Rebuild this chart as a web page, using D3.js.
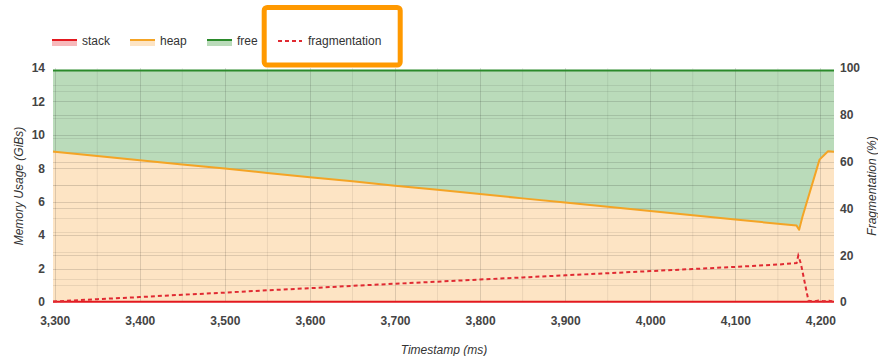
<!DOCTYPE html>
<html><head><meta charset="utf-8">
<script src="https://cdn.jsdelivr.net/npm/d3@7"></script>
<style>
html,body{margin:0;padding:0;background:#fff;}
svg{display:block;font-family:"Liberation Sans",Arial,sans-serif;}
</style></head>
<body><svg id="c" width="878" height="356"></svg>
<script>
// ---- data ----
const memTs =  [3298,3300,3350,3400,3450,3500,3550,3600,3650,3700,3750,3800,3850,3900,3950,4000,4050,4100,4150,4172,4175,4179,4199,4209,4216];
const stack =  [0.02,0.02,0.02,0.02,0.02,0.02,0.02,0.02,0.02,0.02,0.02,0.02,0.02,0.02,0.02,0.02,0.02,0.02,0.02,0.02,0.02,0.02,0.02,0.02,0.02];
const heap =   [8.98,8.97,8.72,8.46,8.21,7.96,7.70,7.45,7.20,6.94,6.69,6.44,6.18,5.93,5.68,5.43,5.17,4.92,4.66,4.55,4.30,5.10,8.50,9.00,8.97];
const free =   [4.85,4.86,5.11,5.37,5.62,5.87,6.13,6.38,6.63,6.89,7.14,7.39,7.65,7.90,8.15,8.40,8.66,8.91,9.17,9.28,9.53,8.73,5.33,4.83,4.86];
const fragTs = [3298,3350,3400,3450,3500,3550,3600,3650,3700,3750,3800,3850,3900,3950,4000,4050,4100,4150,4172,4174,4177,4186,4192,4198,4204,4210,4214,4216];
const frag =   [0.2,1.2,2.1,3.1,4.0,5.0,5.9,6.9,7.8,8.7,9.6,10.5,11.4,12.3,13.2,14.1,15.0,16.0,16.6,19.8,16.5,0.5,0.3,0.6,0.3,0.5,0.3,1.2];
const xTicks = [3300,3400,3500,3600,3700,3800,3900,4000,4100,4200];
const yLeftTicks = [0,2,4,6,8,10,12,14];
const yRightTicks = [0,20,40,60,80,100];
const legendNames = ["stack","heap","free","fragmentation"];

// ---- layout ----
const svg = d3.select("#c");
const L = 53, R = 834, T = 68, B = 302;
const x = d3.scaleLinear().domain([3298,4216]).range([L,R]);
const yL = d3.scaleLinear().domain([0,14]).range([B,T]);
const yR = d3.scaleLinear().domain([0,100]).range([B,T]);

const rows = memTs.map((t,i)=>({t, s:stack[i], h:heap[i], f:free[i]}));

const colors = {
  stackLine:"#e3191f", stackFill:"#f7b9bb",
  heapLine:"#f4a425", heapFill:"#fde4c4",
  freeLine:"#2b8a2b", freeFill:"#badbba",
  frag:"#e02a32"
};

const g = svg.append("g");
// areas
g.append("path").datum(rows)
  .attr("d", d3.area().x(d=>x(d.t)).y0(d=>yL(d.s+d.h)).y1(d=>yL(d.s+d.h+d.f)))
  .attr("fill", colors.freeFill);
g.append("path").datum(rows)
  .attr("d", d3.area().x(d=>x(d.t)).y0(d=>yL(d.s)).y1(d=>yL(d.s+d.h)))
  .attr("fill", colors.heapFill);
g.append("path").datum(rows)
  .attr("d", d3.area().x(d=>x(d.t)).y0(yL(0)).y1(d=>yL(d.s)))
  .attr("fill", colors.stackFill);

// grid
const grid = svg.append("g");
const minorX = d3.range(3350, 4216, 100);
grid.selectAll(".vmin").data(minorX).join("line")
  .attr("x1",d=>x(d)).attr("x2",d=>x(d)).attr("y1",T).attr("y2",B)
  .attr("stroke","rgba(0,0,0,0.07)").attr("stroke-width",1);
grid.selectAll(".vmaj").data(xTicks).join("line")
  .attr("x1",d=>Math.round(x(d))+0.5).attr("x2",d=>Math.round(x(d))+0.5).attr("y1",T).attr("y2",B)
  .attr("stroke","rgba(0,0,0,0.13)").attr("stroke-width",1);
const leftGrid = d3.range(1,14,1);
grid.selectAll(".hl").data(leftGrid).join("line")
  .attr("x1",L).attr("x2",R).attr("y1",d=>Math.round(yL(d))+0.5).attr("y2",d=>Math.round(yL(d))+0.5)
  .attr("stroke",d=> d%2===0 ? "rgba(0,0,0,0.13)" : "rgba(0,0,0,0.08)").attr("stroke-width",1);
const rightGrid = d3.range(10,100,10);
grid.selectAll(".hr").data(rightGrid).join("line")
  .attr("x1",L).attr("x2",R).attr("y1",d=>Math.round(yR(d))+0.5).attr("y2",d=>Math.round(yR(d))+0.5)
  .attr("stroke",d=> d%20===0 ? "rgba(0,0,0,0.12)" : "rgba(0,0,0,0.08)").attr("stroke-width",1);

// lines
svg.append("path").datum(rows)
  .attr("d", d3.line().x(d=>x(d.t)).y(d=>yL(d.s+d.h+d.f)))
  .attr("fill","none").attr("stroke",colors.freeLine).attr("stroke-width",2);
svg.append("path").datum(rows)
  .attr("d", d3.line().x(d=>x(d.t)).y(d=>yL(d.s+d.h)))
  .attr("fill","none").attr("stroke",colors.heapLine).attr("stroke-width",2).attr("stroke-linejoin","round");
svg.append("path").datum(rows)
  .attr("d", d3.line().x(d=>x(d.t)).y(d=>yL(d.s)))
  .attr("fill","none").attr("stroke",colors.stackLine).attr("stroke-width",2);
svg.append("path").datum(fragTs.map((t,i)=>({t, v:frag[i]})))
  .attr("d", d3.line().x(d=>x(d.t)).y(d=>yR(d.v)))
  .attr("fill","none").attr("stroke",colors.frag).attr("stroke-width",2).attr("stroke-dasharray","4,3");

// axes
const tickStyle = s => s.attr("font-size",12).attr("font-weight","bold").attr("fill","#444");
const xAxis = svg.append("g").attr("transform",`translate(0,${B})`)
  .call(d3.axisBottom(x).tickValues(xTicks).tickFormat(d3.format(",")).tickSize(0).tickPadding(14));
xAxis.select(".domain").remove();
xAxis.selectAll("text").call(tickStyle);
const yAxisL = svg.append("g").attr("transform",`translate(${L},0)`)
  .call(d3.axisLeft(yL).tickValues(yLeftTicks).tickSize(0).tickPadding(8));
yAxisL.select(".domain").remove();
yAxisL.selectAll("text").call(tickStyle);
const yAxisR = svg.append("g").attr("transform",`translate(${R},0)`)
  .call(d3.axisRight(yR).tickValues(yRightTicks).tickSize(0).tickPadding(6));
yAxisR.select(".domain").remove();
yAxisR.selectAll("text").call(tickStyle);

// titles
svg.append("text").attr("transform","translate(23,186) rotate(-90)").attr("text-anchor","middle")
  .attr("font-size",12).attr("font-style","italic").attr("fill","#333").text("Memory Usage (GiBs)");
svg.append("text").attr("transform","translate(876,186) rotate(-90)").attr("text-anchor","middle")
  .attr("font-size",12).attr("font-style","italic").attr("fill","#333").text("Fragmentation (%)");
svg.append("text").attr("x",444).attr("y",354).attr("text-anchor","middle")
  .attr("font-size",12).attr("font-style","italic").attr("fill","#333").text("Timestamp (ms)");

// legend
const legX = [52, 130, 207, 278];
const legLine = [colors.stackLine, colors.heapLine, colors.freeLine, colors.frag];
const legFill = [colors.stackFill, colors.heapFill, colors.freeFill, null];
const leg = svg.append("g");
legendNames.forEach((n,i)=>{
  const gx = leg.append("g").attr("transform",`translate(${legX[i]},0)`);
  if (legFill[i]) {
    gx.append("rect").attr("x",0).attr("y",40).attr("width",25).attr("height",6).attr("fill",legFill[i]);
    gx.append("line").attr("x1",0).attr("x2",25).attr("y1",40).attr("y2",40).attr("stroke",legLine[i]).attr("stroke-width",2);
  } else {
    gx.append("line").attr("x1",0).attr("x2",24).attr("y1",41).attr("y2",41).attr("stroke",legLine[i]).attr("stroke-width",2).attr("stroke-dasharray","4,3");
  }
  gx.append("text").attr("x", i===3 ? 30 : 30).attr("y",45).attr("font-size",12).attr("fill","#333").text(n);
});

// highlight box
svg.append("rect").attr("x",264.2).attr("y",7.5).attr("width",136).attr("height",57.5).attr("rx",3)
  .attr("fill","none").attr("stroke","#FF9900").attr("stroke-width",5);
</script></body></html>
